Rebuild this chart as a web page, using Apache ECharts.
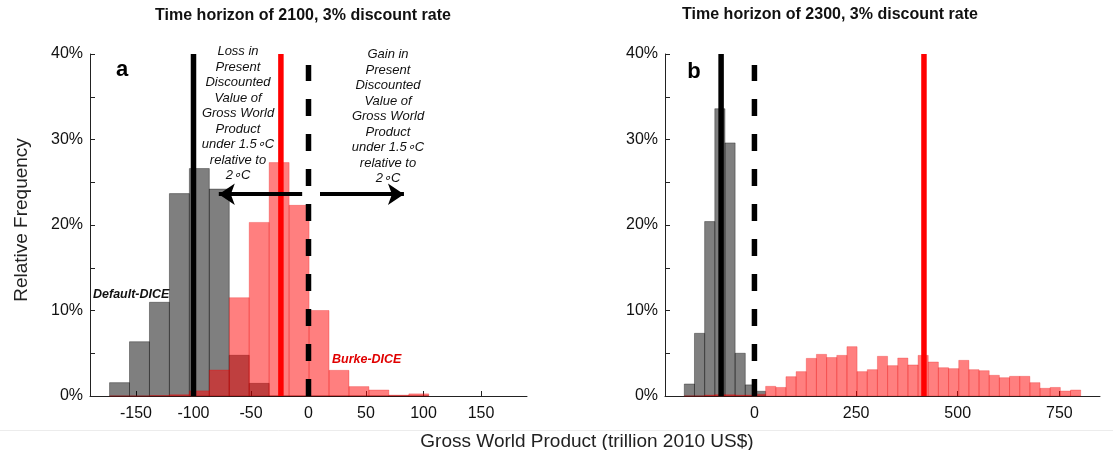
<!DOCTYPE html>
<html>
<head>
<meta charset="utf-8">
<script src="https://cdn.jsdelivr.net/npm/echarts@6/dist/echarts.min.js"></script>
<style>
  html, body { margin: 0; padding: 0; background: #fff; }
  #chart { width: 1113px; height: 450px; }
</style>
</head>
<body>
<div id="chart"></div>
<script>
// panel a: 2100 horizon, bins of ~17.35 starting at -173
var binStartA = -173;
var binWidthA = 17.35;
var defaultA = [1.56, 6.35, 10.96, 23.67, 26.6, 24.2, 4.76, 1.48, 0, 0, 0, 0, 0, 0, 0, 0];
var burkeA = [0, 0, 0.05, 0.15, 0.6, 3.04, 11.5, 20.3, 27.3, 22.3, 10.0, 3.0, 1.1, 0.7, 0.1, 0.25];
var meanDefaultA = -100;
var meanBurkeA = -24;

// panel b: 2300 horizon, bins of 25 starting at -172.5
var binStartB = -172.5;
var binWidthB = 25;
var defaultB = [1.4, 7.33, 20.4, 33.6, 29.6, 5.0, 1.3, 0.55];
var burkeB = [0, 0, 0.1, 0.15, 0.15, 0.1, 0.1, 0.2,
    1.13, 1.0, 2.26, 2.85, 4.4, 4.87, 4.5, 4.75, 5.77, 2.85, 3.08, 4.64, 3.55, 4.44,
    3.63, 4.75, 3.98, 3.31, 3.2, 4.17, 3.08, 2.96, 2.42, 2.14, 2.3, 2.3, 1.56, 0.9,
    1.0, 0.58, 0.7];
var meanDefaultB = -82;
var meanBurkeB = 417;

var xTicksA = [-150, -100, -50, 0, 50, 100, 150];
var xTicksB = [0, 250, 500, 750];
var arrowLoss = [[-5.5, 23.6], [-78, 23.6]];
var arrowGain = [[10, 23.6], [83, 23.6]];

var FONT = '"Liberation Sans", Arial, Helvetica, sans-serif';

function bins(start, width, vals) {
    var out = [];
    for (var i = 0; i < vals.length; i++) {
        out.push([start + i * width, start + (i + 1) * width, vals[i]]);
    }
    return out;
}

function histSeries(idx, data, fill, edge) {
    return {
        type: 'custom',
        xAxisIndex: idx,
        yAxisIndex: idx,
        silent: true,
        data: data,
        renderItem: function (params, api) {
            var p0 = api.coord([api.value(0), api.value(2)]);
            var p1 = api.coord([api.value(1), 0]);
            return {
                type: 'rect',
                shape: { x: p0[0], y: p0[1], width: p1[0] - p0[0], height: p1[1] - p0[1] },
                style: { fill: fill, stroke: edge, lineWidth: 1 }
            };
        }
    };
}

function vline(idx, x, top, color, dashed) {
    return {
        type: 'line',
        xAxisIndex: idx,
        yAxisIndex: idx,
        silent: true,
        showSymbol: false,
        symbol: 'none',
        data: [[x, 0], [x, top]],
        lineStyle: { color: color, width: 5.5, type: dashed ? [17, 18] : 'solid', cap: 'butt' },
        z: 5
    };
}

function xAxis(idx, min, max, ticks) {
    return {
        type: 'value', gridIndex: idx, min: min, max: max,
        splitLine: { show: false },
        axisLine: { onZero: false, lineStyle: { color: '#222', width: 1 } },
        axisTick: { inside: true, length: 5, customValues: ticks, lineStyle: { color: '#222' } },
        axisLabel: { customValues: ticks, color: '#111', fontSize: 16, fontFamily: FONT, margin: 10 }
    };
}

function yAxis(idx) {
    return {
        type: 'value', gridIndex: idx, min: 0, max: 40, interval: 5,
        splitLine: { show: false },
        axisLine: { show: true, onZero: false, lineStyle: { color: '#222', width: 1 } },
        axisTick: { show: true, inside: true, length: 5, lineStyle: { color: '#222' } },
        axisLabel: {
            color: '#111', fontSize: 16, fontFamily: FONT, margin: 7,
            formatter: function (v) { return v % 10 === 0 ? v + '%' : ''; }
        }
    };
}

var chart = echarts.init(document.getElementById('chart'));

var noteStyle = { fill: '#111', fontSize: 13, fontStyle: 'italic', fontFamily: FONT,
    textAlign: 'center', textVerticalAlign: 'top', lineHeight: 15.5 };
var noteText = 'Present\nDiscounted\nValue of\nGross World\nProduct\nunder 1.5\u2218C\nrelative to\n2\u2218C';

var option = {
    backgroundColor: '#fff',
    animation: false,
    grid: [
        { left: 90, top: 54, width: 437, height: 342 },
        { left: 665, top: 54, width: 435, height: 342 }
    ],
    xAxis: [xAxis(0, -190, 190, xTicksA), xAxis(1, -220, 850, xTicksB)],
    yAxis: [yAxis(0), yAxis(1)],
    series: [
        histSeries(0, bins(binStartA, binWidthA, defaultA), 'rgba(0,0,0,0.5)', 'rgba(0,0,0,0.35)'),
        histSeries(0, bins(binStartA, binWidthA, burkeA), 'rgba(255,0,0,0.5)', 'rgba(230,0,0,0.25)'),
        histSeries(1, bins(binStartB, binWidthB, defaultB), 'rgba(0,0,0,0.5)', 'rgba(0,0,0,0.35)'),
        histSeries(1, bins(binStartB, binWidthB, burkeB), 'rgba(255,0,0,0.5)', 'rgba(230,0,0,0.25)'),
        vline(0, meanDefaultA, 40, '#000', false),
        vline(0, meanBurkeA, 40, '#ff0000', false),
        vline(0, 0, 38.7, '#000', true),
        vline(1, meanDefaultB, 40, '#000', false),
        vline(1, meanBurkeB, 40, '#ff0000', false),
        vline(1, 0, 38.7, '#000', true),
        {
            type: 'lines',
            coordinateSystem: 'cartesian2d',
            xAxisIndex: 0,
            yAxisIndex: 0,
            silent: true,
            symbol: ['none', 'arrow'],
            symbolSize: [13, 16],
            lineStyle: { color: '#000', width: 4, opacity: 1 },
            data: [{ coords: arrowLoss }, { coords: arrowGain }],
            z: 6
        }
    ],
    graphic: [
        { type: 'text', x: 303, y: 16, style: { text: 'Time horizon of 2100, 3% discount rate', fill: '#111',
            fontSize: 16, fontWeight: 'bold', fontFamily: FONT, textAlign: 'center', textVerticalAlign: 'middle' } },
        { type: 'text', x: 830, y: 15, style: { text: 'Time horizon of 2300, 3% discount rate', fill: '#111',
            fontSize: 16, fontWeight: 'bold', fontFamily: FONT, textAlign: 'center', textVerticalAlign: 'middle' } },
        { type: 'text', x: 122, y: 70, style: { text: 'a', fill: '#000', fontSize: 22, fontWeight: 'bold',
            fontFamily: FONT, textAlign: 'center', textVerticalAlign: 'middle' } },
        { type: 'text', x: 694, y: 72, style: { text: 'b', fill: '#000', fontSize: 22, fontWeight: 'bold',
            fontFamily: FONT, textAlign: 'center', textVerticalAlign: 'middle' } },
        { type: 'text', x: 238, y: 44, z: 10, style: Object.assign({}, noteStyle, { text: 'Loss in\n' + noteText }) },
        { type: 'text', x: 388, y: 47, z: 10, style: Object.assign({}, noteStyle, { text: 'Gain in\n' + noteText }) },
        { type: 'text', x: 93, y: 295, z: 10, style: { text: 'Default-DICE', fill: '#111', fontSize: 12.5,
            fontWeight: 'bold', fontStyle: 'italic', fontFamily: FONT, textVerticalAlign: 'middle' } },
        { type: 'text', x: 332, y: 360, z: 10, style: { text: 'Burke-DICE', fill: '#e00000', fontSize: 12.5,
            fontWeight: 'bold', fontStyle: 'italic', fontFamily: FONT, textVerticalAlign: 'middle' } },
        { type: 'text', x: 22, y: 220, rotation: Math.PI / 2, style: { text: 'Relative Frequency', fill: '#222',
            fontSize: 19, fontFamily: FONT, textAlign: 'center', textVerticalAlign: 'middle' } },
        { type: 'text', x: 587, y: 442, style: { text: 'Gross World Product (trillion 2010 US$)', fill: '#222',
            fontSize: 19, fontFamily: FONT, textAlign: 'center', textVerticalAlign: 'middle' } },
        { type: 'line', shape: { x1: 0, y1: 430.5, x2: 1113, y2: 430.5 }, style: { stroke: '#ececec', lineWidth: 1 } }
    ]
};
chart.setOption(option);
</script>
</body>
</html>
